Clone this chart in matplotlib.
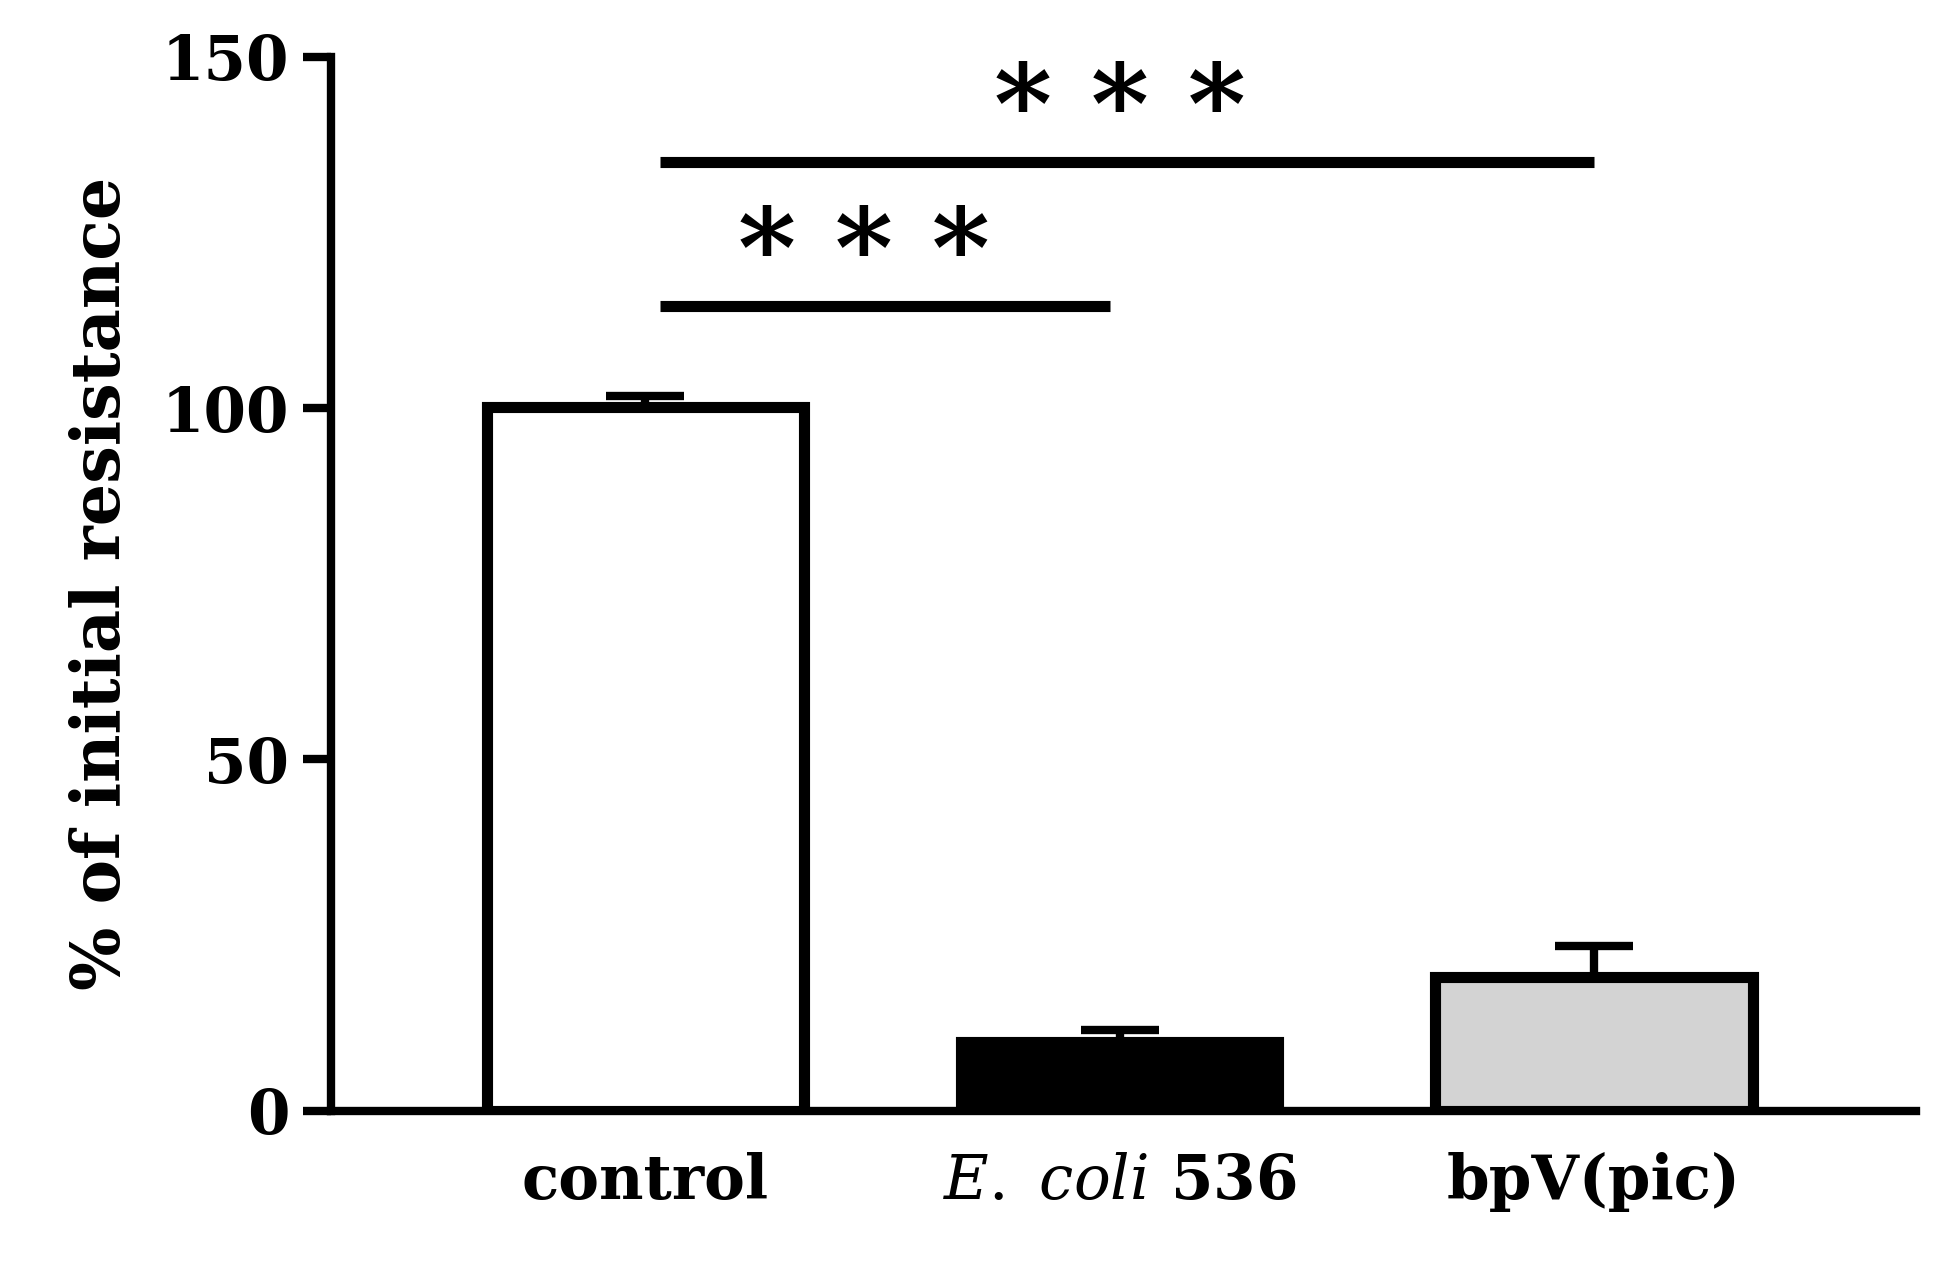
import matplotlib.pyplot as plt

groups = ["control", r"$\mathit{E.\ coli}$ $\mathbf{536}$", "bpV(pic)"]
values = [100.2, 9.8, 19.0]
errors = [1.5, 1.6, 4.4]
colors = ["white", "black", "#d3d3d3"]

plt.rcParams['font.family'] = ['DejaVu Serif']
plt.rcParams['mathtext.fontset'] = 'dejavuserif'
fig = plt.figure(figsize=(19.47, 12.62), dpi=100)
ax = fig.add_axes([0.170, 0.12, 0.814, 0.835])

x = [0, 1, 2]
ax.bar(x, values, width=0.67, color=colors, edgecolor="black", linewidth=8, zorder=2)
ax.errorbar(x, values, yerr=[[0, 0, 0], errors], fmt="none", ecolor="black",
            elinewidth=6, capsize=28, capthick=6, zorder=1)

ax.set_xlim(-0.663, 2.679)
ax.set_ylim(0, 150)
ax.set_yticks([0, 50, 100, 150])
ax.tick_params(axis="y", width=6, length=20, labelsize=44, pad=10)
ax.tick_params(axis="x", length=0, pad=30)
for lab in ax.get_yticklabels():
    lab.set_fontweight("bold")
ax.set_xticks(x)
ax.set_xticklabels(groups, fontsize=44, fontweight="bold")
for s in ["top", "right"]:
    ax.spines[s].set_visible(False)
for s in ["left", "bottom"]:
    ax.spines[s].set_linewidth(6)
ax.set_ylabel("% of initial resistance", fontsize=48, fontweight="bold", labelpad=20)

# significance bars
ax.plot([0.03, 0.98], [114.5, 114.5], color="black", lw=8, solid_capstyle="butt")
ax.text(0.46, 114, "* * *", ha="center", va="bottom", fontsize=80, fontweight="bold")
ax.plot([0.03, 2.0], [135, 135], color="black", lw=8, solid_capstyle="butt")
ax.text(1.0, 134.5, "* * *", ha="center", va="bottom", fontsize=80, fontweight="bold")

fig.savefig("out.png", dpi=100)
